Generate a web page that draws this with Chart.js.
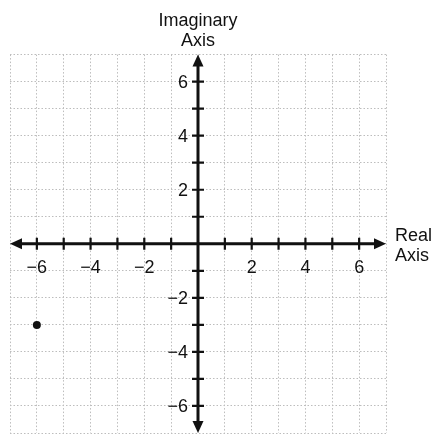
<!DOCTYPE html>
<html>
<head>
<meta charset="utf-8">
<script src="https://cdn.jsdelivr.net/npm/chart.js@4"></script>
<style>
  html, body { margin: 0; padding: 0; background: #fff; }
  #wrap { width: 439px; height: 437px; position: relative; }
</style>
</head>
<body>
<div id="wrap"><canvas id="plane"></canvas></div>
<script>
'use strict';

// ── Plane data ────────────────────────────────────────────────────────
const axisMin = -7;
const axisMax = 7;
const labelValues = [-6, -4, -2, 2, 4, 6];
const labelTexts = ['\u22126', '\u22124', '\u22122', '2', '4', '6'];
const pointsRe = [-6];
const pointsIm = [-3];

const INK = '#111';
const FONT = "'Liberation Sans', Arial, sans-serif";

// ── Axes through the origin: arrows, cross ticks, labels ──────────────
const axesPlugin = {
  id: 'axes',
  afterDatasetsDraw(chart) {
    const { ctx, chartArea: a } = chart;
    const xs = chart.scales.x;
    const ys = chart.scales.y;
    const ox = xs.getPixelForValue(0);
    const oy = ys.getPixelForValue(0);
    const head = 12, half = 5.5, tick = 6;

    ctx.save();
    ctx.strokeStyle = INK;
    ctx.fillStyle = INK;
    ctx.lineWidth = 3;

    ctx.beginPath();
    ctx.moveTo(a.left + head - 2, oy);
    ctx.lineTo(a.right - head + 2, oy);
    ctx.moveTo(ox, a.top + head - 2);
    ctx.lineTo(ox, a.bottom - head + 2);
    ctx.stroke();

    ctx.lineWidth = 2.2;
    ctx.beginPath();
    xs.ticks.forEach(t => {
      if (t.value === 0 || Math.abs(t.value) >= axisMax) return;
      const px = xs.getPixelForValue(t.value);
      ctx.moveTo(px, oy - tick);
      ctx.lineTo(px, oy + tick);
    });
    ys.ticks.forEach(t => {
      if (t.value === 0 || Math.abs(t.value) >= axisMax) return;
      const py = ys.getPixelForValue(t.value);
      ctx.moveTo(ox - tick, py);
      ctx.lineTo(ox + tick, py);
    });
    ctx.stroke();

    // arrow heads at each end of both axes
    const tri = (x0, y0, dx, dy) => {
      ctx.beginPath();
      ctx.moveTo(x0, y0);
      ctx.lineTo(x0 - dx * head - dy * half, y0 - dy * head - dx * half);
      ctx.lineTo(x0 - dx * head + dy * half, y0 - dy * head + dx * half);
      ctx.closePath();
      ctx.fill();
    };
    tri(a.right, oy, 1, 0);
    tri(a.left, oy, -1, 0);
    tri(ox, a.top, 0, -1);
    tri(ox, a.bottom, 0, 1);

    // even values only, real below the axis, imaginary to its left
    ctx.font = `18px ${FONT}`;
    ctx.textBaseline = 'middle';
    ctx.textAlign = 'center';
    labelValues.forEach((v, i) => {
      ctx.fillText(labelTexts[i], xs.getPixelForValue(v), oy + 24);
    });
    ctx.textAlign = 'right';
    labelValues.forEach((v, i) => {
      ctx.fillText(labelTexts[i], ox - 10, ys.getPixelForValue(v) + 1);
    });

    ctx.textAlign = 'left';
    ctx.textBaseline = 'alphabetic';
    ctx.fillText('Real', a.right + 9, oy - 3);
    ctx.fillText('Axis', a.right + 9, oy + 17);
    ctx.restore();
  }
};

// ── Chart ─────────────────────────────────────────────────────────────
const gridOpts = { color: '#bdbdbd', lineWidth: 1, drawTicks: false };

new Chart(document.getElementById('plane'), {
  type: 'scatter',
  data: {
    datasets: [{
      data: pointsRe.map((re, i) => ({ x: re, y: pointsIm[i] })),
      backgroundColor: INK,
      borderWidth: 0,
      pointRadius: 4,
    }],
  },
  options: {
    responsive: true,
    maintainAspectRatio: false,
    animation: false,
    layout: { padding: { left: 10, right: 53, top: 3, bottom: 1 } },
    plugins: {
      legend: { display: false },
      tooltip: { enabled: false },
      title: {
        display: true,
        text: ['Imaginary', 'Axis'],
        color: INK,
        font: { family: FONT, size: 18, weight: 'normal', lineHeight: 1.1 },
        padding: { top: 8, bottom: 4 },
      },
    },
    scales: {
      x: {
        type: 'linear',
        min: axisMin, max: axisMax,
        grid: gridOpts,
        border: { display: false, dash: [1.5, 2] },
        ticks: { stepSize: 1, display: false },
      },
      y: {
        type: 'linear',
        min: axisMin, max: axisMax,
        grid: gridOpts,
        border: { display: false, dash: [1.5, 2] },
        ticks: { stepSize: 1, display: false },
      },
    },
  },
  plugins: [axesPlugin],
});
</script>
</body>
</html>
